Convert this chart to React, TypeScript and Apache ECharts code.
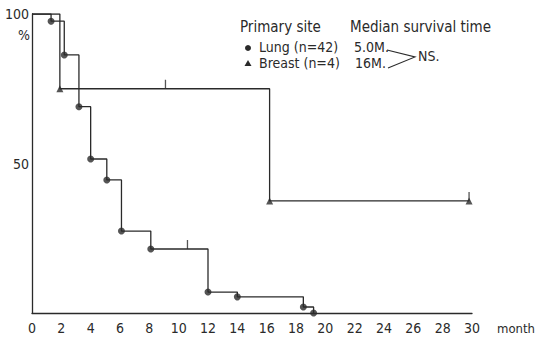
import React, { useEffect, useRef } from "react";
import * as echarts from "echarts";

// Lung (n=42) Kaplan–Meier steps
const lungTimes = [0, 1.3, 2.2, 3.2, 4.0, 5.1, 6.1, 8.1, 12.0, 14.0, 18.5, 19.2];
const lungSurv = [100, 97.6, 86.3, 69, 51.5, 44.5, 27.4, 21.4, 7.0, 5.4, 2.0, 0];
const lungCensorTimes = [10.6];
const lungCensorSurv = [21.4];

// Breast (n=4)
const breastTimes = [0, 1.9, 16.2, 29.8];
const breastSurv = [100, 75, 37.5, 37.5];
const breastCensorTimes = [9.1, 29.8];
const breastCensorSurv = [75, 37.5];

const xTicks = [0, 2, 4, 6, 8, 10, 12, 14, 16, 18, 20, 22, 24, 26, 28, 30];
const yTickLabels = [50, 100];

const FONT = "'DejaVu Sans Condensed', 'Liberation Sans Narrow', 'DejaVu Sans', sans-serif";
const INK = "#2a2a2a";

export default function App() {
  const ref = useRef<HTMLDivElement>(null);
  useEffect(() => {
    if (!ref.current) return;
    const chart = echarts.init(ref.current, null, { renderer: "svg" });
    const lungLine = lungTimes.map((t, i) => [t, lungSurv[i]]);
    const breastLine = breastTimes.map((t, i) => [t, breastSurv[i]]);
    const lungDots = lungTimes.slice(1).map((t, i) => [t, lungSurv[i + 1]]);
    const breastTris = breastTimes.slice(1).map((t, i) => [t, breastSurv[i + 1]]);
    const censors = [
      ...lungCensorTimes.map((t, i) => [t, lungCensorSurv[i]]),
      ...breastCensorTimes.map((t, i) => [t, breastCensorSurv[i]]),
    ];
    chart.setOption({
      animation: false,
      backgroundColor: "#ffffff",
      grid: { left: 32, right: 72, top: 14, bottom: 30 },
      xAxis: {
        type: "value",
        min: 0,
        max: 30,
        interval: 2,
        axisLine: { show: true, lineStyle: { color: INK, width: 1.3 } },
        axisTick: { show: false },
        splitLine: { show: false },
        axisLabel: {
          color: INK,
          fontFamily: FONT,
          fontSize: 14,
          margin: 8,
          formatter: (v: number) => (xTicks.includes(v) ? String(v) : ""),
        },
      },
      yAxis: {
        type: "value",
        min: 0,
        max: 100,
        interval: 50,
        axisLine: { show: true, lineStyle: { color: INK, width: 1.3 } },
        axisTick: { show: false },
        splitLine: { show: false },
        axisLabel: {
          color: INK,
          fontFamily: FONT,
          fontSize: 14,
          margin: 3,
          formatter: (v: number) => (yTickLabels.includes(v) ? String(v) : ""),
        },
      },
      series: [
        {
          type: "line",
          step: "end",
          data: lungLine,
          showSymbol: false,
          symbol: "none",
          lineStyle: { color: INK, width: 1.3 },
        },
        {
          type: "line",
          step: "end",
          data: breastLine,
          showSymbol: false,
          symbol: "none",
          lineStyle: { color: INK, width: 1.3 },
        },
        {
          type: "scatter",
          data: lungDots,
          symbol: "circle",
          symbolSize: 7,
          itemStyle: { color: INK },
        },
        {
          type: "scatter",
          data: breastTris,
          symbol: "triangle",
          symbolSize: 7,
          itemStyle: { color: INK },
        },
        {
          type: "scatter",
          data: censors,
          symbol: "rect",
          symbolSize: [1.3, 9],
          symbolOffset: [0, -4.5],
          itemStyle: { color: INK },
        },
      ],
      graphic: [
        { type: "text", left: 18, top: 28, style: { text: "%", font: `14px ${FONT}`, fill: INK } },
        { type: "text", left: 497, top: 322, style: { text: "month", font: `13px ${FONT}`, fill: INK } },
        { type: "text", left: 240, top: 19, style: { text: "Primary site", font: `15px ${FONT}`, fill: INK } },
        { type: "text", left: 350, top: 19, style: { text: "Median survival time", font: `15px ${FONT}`, fill: INK } },
        { type: "circle", shape: { cx: 248, cy: 48, r: 3 }, style: { fill: INK } },
        { type: "text", left: 259, top: 40, style: { text: "Lung (n=42)", font: `14px ${FONT}`, fill: INK } },
        { type: "polygon", shape: { points: [[248, 60], [244.5, 66], [251.5, 66]] }, style: { fill: INK } },
        { type: "text", left: 259, top: 56, style: { text: "Breast (n=4)", font: `14px ${FONT}`, fill: INK } },
        { type: "text", left: 354, top: 40, style: { text: "5.0M.", font: `14px ${FONT}`, fill: INK } },
        { type: "text", left: 355, top: 56, style: { text: "16M.", font: `14px ${FONT}`, fill: INK } },
        {
          type: "polyline",
          shape: { points: [[387, 50], [415, 57], [388, 68]] },
          style: { stroke: INK, lineWidth: 1.1, fill: "none" },
        },
        { type: "text", left: 418, top: 49, style: { text: "NS.", font: `14px ${FONT}`, fill: INK } },
      ],
    });
    return () => chart.dispose();
  }, []);
  return (
    <div
      ref={ref}
      style={{ position: "absolute", left: 0, top: 0, width: 544, height: 343 }}
    />
  );
}
